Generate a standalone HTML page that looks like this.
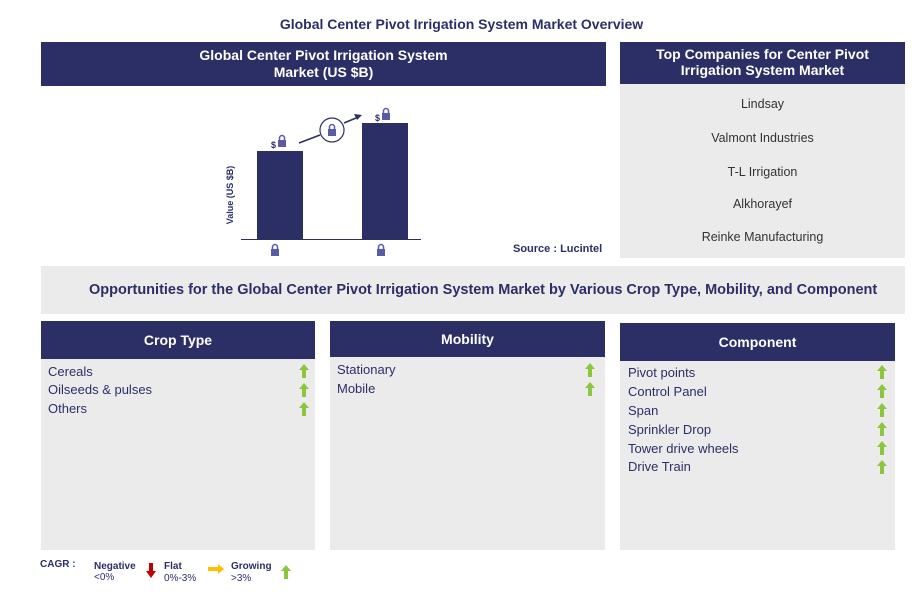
<!DOCTYPE html>
<html><head><style>
body{margin:0;width:923px;height:604px;background:#fff;font-family:"Liberation Sans",sans-serif;position:relative;overflow:hidden}
.a{position:absolute}
.nav{background:#2b2f66;color:#fff;font-weight:bold;text-align:center}
.g{background:#ebebeb}
.it{position:absolute;left:7px;font-size:13px;color:#2b2f66;white-space:nowrap}
.co{position:absolute;width:285px;text-align:center;font-size:12.5px;color:#333}
</style></head><body>
<div class="a" style="left:0;top:16px;width:923px;text-align:center;font-weight:bold;font-size:14px;color:#2b2f66">Global Center Pivot Irrigation System Market Overview</div>
<div class="a nav" style="left:41px;top:42px;width:565px;height:44px;font-size:14px;line-height:17px;padding-top:5px;box-sizing:border-box">Global Center Pivot Irrigation System<br>Market (US $B)</div>
<div class="a nav" style="left:620px;top:42px;width:285px;height:42px;font-size:14px;line-height:16px;padding-top:4px;box-sizing:border-box">Top Companies for Center Pivot<br>Irrigation System Market</div>
<div class="a g" style="left:620px;top:84px;width:285px;height:174px"></div>
<div class="co" style="left:620px;top:97px">Lindsay</div>
<div class="co" style="left:620px;top:131px">Valmont Industries</div>
<div class="co" style="left:620px;top:165px">T-L Irrigation</div>
<div class="co" style="left:620px;top:197px">Alkhorayef</div>
<div class="co" style="left:620px;top:230px">Reinke Manufacturing</div>
<svg class="a" style="left:0;top:0" width="923" height="270">
<defs><g id="lk"><rect x="-4" y="-1" width="8" height="7" fill="#5a5aa8"/><path d="M-2.5,-1 v-2 a2.5,2.5 0 0 1 5,0 v2" stroke="#5a5aa8" stroke-width="1.5" fill="none"/></g></defs>
<rect x="257" y="151" width="46" height="88" fill="#2b2f66"/>
<rect x="362" y="123" width="46" height="116" fill="#2b2f66"/>
<line x1="241" y1="239.5" x2="421" y2="239.5" stroke="#2b2f66" stroke-width="1"/>
<text x="233" y="195" transform="rotate(-90 233 195)" text-anchor="middle" font-size="9" font-weight="bold" fill="#2b2f66" font-family="Liberation Sans">Value (US $B)</text>
<text x="271" y="148" font-size="9" font-weight="bold" fill="#2b2f66" font-family="Liberation Sans">$</text>
<use href="#lk" x="282" y="141"/>
<text x="375" y="121" font-size="9" font-weight="bold" fill="#2b2f66" font-family="Liberation Sans">$</text>
<use href="#lk" x="386" y="114"/>
<use href="#lk" x="275" y="250"/>
<use href="#lk" x="381" y="250"/>
<line x1="299" y1="143" x2="320" y2="135" stroke="#2b2f66" stroke-width="1.5"/>
<line x1="344" y1="123" x2="356" y2="118" stroke="#2b2f66" stroke-width="1.5"/>
<path d="M362,115 l-8,-1 l3,6 z" fill="#2b2f66"/>
<circle cx="332" cy="130" r="12" fill="#fff" stroke="#2b2f66" stroke-width="1.2"/>
<use href="#lk" x="332" y="130"/>
<text x="513" y="252" font-size="11" font-weight="bold" fill="#2b2f66" font-family="Liberation Sans">Source : Lucintel</text>
</svg>
<div class="a g" style="left:41px;top:266px;width:864px;height:48px"></div>
<div class="a" style="left:89px;top:282px;font-size:14.5px;font-weight:bold;color:#2b2f66;white-space:nowrap">Opportunities for the Global Center Pivot Irrigation System Market by Various Crop Type, Mobility, and Component</div>

<div class="a g" style="left:41px;top:359px;width:274px;height:191px"></div>
<div class="a nav" style="left:41px;top:321px;width:274px;height:38px;line-height:38px;font-size:14px">Crop Type</div>
<div class="a" style="left:41px;top:364px;width:274px">
<div class="it" style="top:0">Cereals</div><div class="it" style="top:18px">Oilseeds &amp; pulses</div><div class="it" style="top:37px">Others</div></div>

<div class="a g" style="left:330px;top:357px;width:275px;height:193px"></div>
<div class="a nav" style="left:330px;top:321px;width:275px;height:36px;line-height:36px;font-size:14px">Mobility</div>
<div class="a" style="left:330px;top:362px;width:275px">
<div class="it" style="top:0">Stationary</div><div class="it" style="top:19px">Mobile</div></div>

<div class="a g" style="left:620px;top:361px;width:275px;height:189px"></div>
<div class="a nav" style="left:620px;top:323px;width:275px;height:38px;line-height:38px;font-size:14px">Component</div>
<div class="a" style="left:621px;top:365px;width:275px">
<div class="it" style="top:0">Pivot points</div><div class="it" style="top:19px">Control Panel</div><div class="it" style="top:38px">Span</div><div class="it" style="top:57px">Sprinkler Drop</div><div class="it" style="top:76px">Tower drive wheels</div><div class="it" style="top:94px">Drive Train</div></div>

<svg class="a" style="left:0;top:0" width="923" height="604">
<defs><path id="ga" d="M0,-7 l5,6 h-3 v8 h-4 v-8 h-3 z" fill="#8cc63f"/></defs>
<use href="#ga" x="304" y="371"/><use href="#ga" x="304" y="390"/><use href="#ga" x="304" y="409"/>
<use href="#ga" x="590" y="370"/><use href="#ga" x="590" y="389"/>
<use href="#ga" x="882" y="372"/><use href="#ga" x="882" y="391"/><use href="#ga" x="882" y="410"/><use href="#ga" x="882" y="429"/><use href="#ga" x="882" y="448"/><use href="#ga" x="882" y="467"/>
<path d="M149,563 h4 v8 h3 l-5,7 l-5,-7 h3 z" fill="#c00000"/>
<path d="M208,567 h10 v-3 l6,5 l-6,5 v-3 h-10 z" fill="#ffc000"/>
<use href="#ga" x="286" y="572"/>
<g font-family="Liberation Sans" fill="#2b2f66" font-size="10">
<text x="40" y="567" font-weight="bold">CAGR :</text>
<text x="94" y="569" font-weight="bold">Negative</text><text x="94" y="580">&lt;0%</text>
<text x="164" y="569" font-weight="bold">Flat</text><text x="164" y="581">0%-3%</text>
<text x="231" y="569" font-weight="bold">Growing</text><text x="231" y="581">&gt;3%</text>
</g>
</svg>
</body></html>
